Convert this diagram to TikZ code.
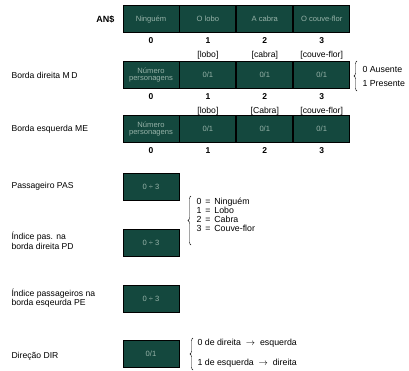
\documentclass[tikz,border=0pt]{standalone}
\usepackage{fontspec}
\setmainfont{Liberation Sans}
\usepackage{tikz}
\usetikzlibrary{positioning, decorations.pathreplacing}
\definecolor{CellGreen}{RGB}{20, 72, 62}
\definecolor{CellText}{RGB}{150, 178, 168}

\begin{document}
\begin{tikzpicture}[
    x=1pt, y=-1pt,
    cell/.style={draw=black, line width=0.9pt, fill=CellGreen, text=CellText, minimum width=56pt, minimum height=27pt, inner sep=0pt, font=\fontsize{7.6}{7.8}\selectfont, align=center},
    lbl/.style={font=\fontsize{8.6}{9.4}\selectfont, anchor=west, align=left},
    idx/.style={font=\fontsize{8.5}{8.5}\selectfont\bfseries},
    tag/.style={font=\fontsize{8.6}{9}\selectfont},
    opt/.style={font=\fontsize{8.8}{9}\selectfont, anchor=west, align=left},
    brc/.style={decorate, decoration={brace, amplitude=3pt}, line width=0.4pt}
  ]
    \useasboundingbox (0,0) rectangle (409,370);

    % Matriz AN$
    \node[font=\fontsize{9}{9}\selectfont\bfseries, anchor=east] (anlbl) at (118, 19) {AN\$};
    \node[cell] (an0) at (151, 19) {Ninguém};
    \node[cell, right=0pt of an0] (an1) {O lobo};
    \node[cell, right=0pt of an1] (an2) {A cabra};
    \node[cell, right=0pt of an2] (an3) {O couve-flor};
    \foreach \i in {0,...,3} {
      \node[idx, below=1pt of an\i] (ani\i) {\i};
    }
    \node[tag, below=1pt of ani1] (ant1) {[lobo]};
    \node[tag, below=1pt of ani2] (ant2) {[cabra]};
    \node[tag, below=1pt of ani3] (ant3) {[couve-flor]};

    % Borda direita MD
    \node[lbl] (mdlbl) at (8, 75) {Borda direita M\,D};
    \node[cell] (md0) at (151, 75) {Número\\personagens};
    \node[cell, right=0pt of md0] (md1) {0/1};
    \node[cell, right=0pt of md1] (md2) {0/1};
    \node[cell, right=0pt of md2] (md3) {0/1};
    \foreach \i in {0,...,3} {
      \node[idx, below=1pt of md\i] (mdi\i) {\i};
    }
    \node[tag, below=1pt of mdi1] (mdt1) {[lobo]};
    \node[tag, below=1pt of mdi2] (mdt2) {[Cabra]};
    \node[tag, below=1pt of mdi3] (mdt3) {[couve-flor]};
    \coordinate (mdtop) at (357, 61);
    \coordinate (mdbot) at (357, 91);
    \draw[brc] (mdbot) -- (mdtop);
    \node[opt] (mdo0) at (359, 69) {0 Ausente};
    \node[opt] (mdo1) at (359, 84) {1 Presente};

    % Borda esquerda ME
    \node[lbl] (melbl) at (8, 129) {Borda esquerda ME};
    \node[cell] (me0) at (151, 129) {Número\\personagens};
    \node[cell, right=0pt of me0] (me1) {0/1};
    \node[cell, right=0pt of me1] (me2) {0/1};
    \node[cell, right=0pt of me2] (me3) {0/1};
    \foreach \i in {0,...,3} {
      \node[idx, below=1pt of me\i] (mei\i) {\i};
    }

    % Passageiro PAS
    \node[lbl] (paslbl) at (8, 186) {Passageiro PAS};
    \node[cell] (pas) at (151, 187) {0 ÷ 3};

    % Indice PD
    \node[lbl] (pdlbl) at (8, 241) {Índice pas. na\\borda direita PD};
    \node[cell] (pd) at (151, 243) {0 ÷ 3};

    % Codigos dos passageiros
    \coordinate (pastop) at (191, 196);
    \coordinate (pasbot) at (191, 245);
    \draw[brc] (pasbot) -- (pastop);
    \node[opt, font=\fontsize{8.8}{9}\selectfont] (pascod) at (193, 215) {0 \,=\, Ninguém\\1 \,=\, Lobo\\2 \,=\, Cabra\\3 \,=\, Couve-flor};

    % Indice PE
    \node[lbl] (pelbl) at (8, 298) {Índice passageiros na\\borda esqeurda PE};
    \node[cell] (pe) at (151, 299) {0 ÷ 3};

    % Direcao DIR
    \node[lbl] (dirlbl) at (8, 356) {Direção DIR};
    \node[cell] (dir) at (151, 354) {0/1};
    \coordinate (dirtop) at (193, 338);
    \coordinate (dirbot) at (193, 370);
    \draw[brc] (dirbot) -- (dirtop);
    \node[opt] (diro0) at (194, 343) {0 de direita~~$\rightarrow$~~esquerda};
    \node[opt] (diro1) at (194, 363) {1 de esquerda~~$\rightarrow$~~direita};
  \end{tikzpicture}
\end{document}
